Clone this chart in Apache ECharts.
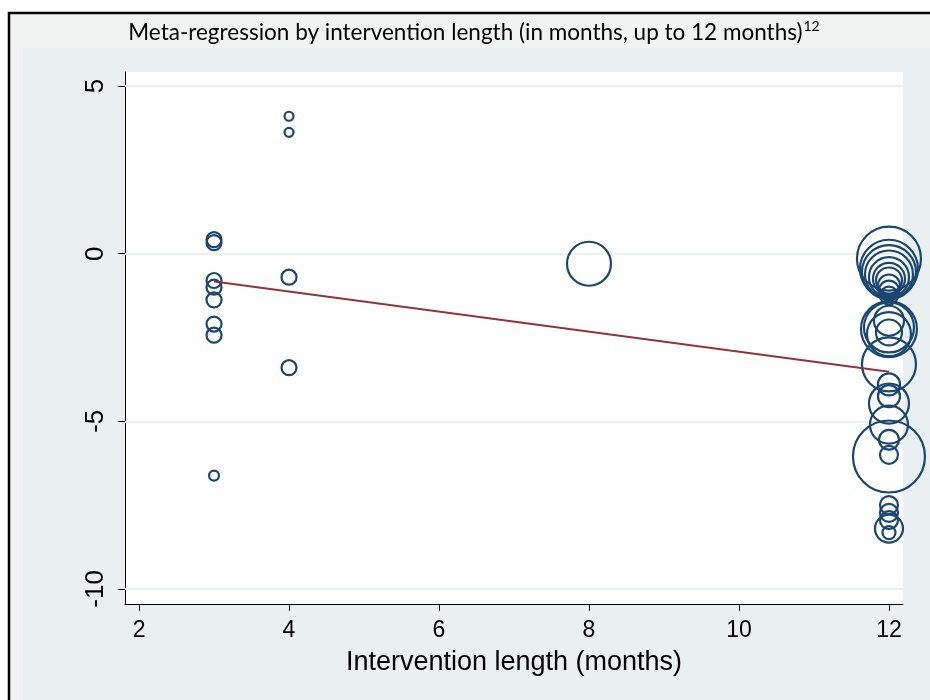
<!DOCTYPE html>
<html>
<head>
<meta charset="utf-8">
<script src="https://cdn.jsdelivr.net/npm/echarts@6/dist/echarts.min.js"></script>
<style>
  html, body { margin: 0; padding: 0; background: #ffffff; }
  #chart { width: 930px; height: 700px; }
</style>
</head>
<body>
<div id="chart"></div>
<script>
// Study-level effects by intervention length (months), with study weights
const months = [
  3, 3, 3, 3, 3, 3, 3, 3,
  4, 4, 4, 4,
  8,
  12, 12, 12, 12, 12, 12, 12, 12, 12, 12,
  12, 12, 12, 12, 12,
  12, 12, 12, 12, 12, 12, 12, 12,
  12, 12, 12, 12, 12
];
const effects = [
  0.42, 0.33, -0.80, -1.00, -1.38, -2.10, -2.43, -6.62,
  4.10, 3.62, -0.70, -3.40,
  -0.30,
  -0.15, -0.45, -0.55, -0.62, -0.70, -0.75, -0.80, -0.95, -1.10, -1.25,
  -2.00, -2.20, -2.25, -2.35, -2.40,
  -3.30, -3.90, -4.25, -4.47, -5.10, -5.55, -6.05, -6.00,
  -7.50, -7.73, -7.95, -8.20, -8.32
];
const studyWeights = [
  25, 25, 25, 25, 25, 25, 25, 11,
  9, 9, 25, 25,
  215,
  455, 374, 324, 256, 178, 114, 75, 54, 44, 36,
  100, 278, 348, 75, 215,
  324, 54, 54, 178, 160, 44, 576, 36,
  36, 36, 36, 87, 19
];

// Fitted meta-regression line at the ends of the observed range
const fitMonths = [3, 12];
const fitEffects = [-0.83, -3.52];

// Axis ticks
const xTicks = [2, 4, 6, 8, 10, 12];
const yTicks = [-10, -5, 0, 5];

const titleText = 'Meta-regression by intervention length (in months, up to 12 months)';
const titleNote = '12';
const xTitle = 'Intervention length (months)';

const navy = '#1a476f';
const maroon = '#90353b';
const gridTint = '#eaf0f2';
const sans = 'Liberation Sans, Arial, sans-serif';

const chart = echarts.init(document.getElementById('chart'), null, { renderer: 'canvas' });

const points = months.map((m, i) => [m, effects[i], studyWeights[i]]);

chart.setOption({
  animation: false,
  backgroundColor: '#ffffff',
  graphic: [
    // outer frame and graph region
    { type: 'rect', z: -10, shape: { x: 9, y: 13, width: 940, height: 700 },
      style: { fill: '#f1f2f2', stroke: '#000000', lineWidth: 2.5 } },
    { type: 'rect', z: -9, shape: { x: 23, y: 48, width: 920, height: 660 },
      style: { fill: gridTint } },
    { type: 'rect', z: -8, shape: { x: 125, y: 72, width: 778, height: 532 },
      style: { fill: '#ffffff' } },
    { type: 'text', z: 10, x: 474, y: 33,
      style: {
        text: '{m|' + titleText + '}{s|' + titleNote + '}',
        align: 'center', verticalAlign: 'middle',
        rich: {
          m: { fontFamily: 'Lato', fontSize: 22.5, fill: '#000000', lineHeight: 28 },
          s: { fontFamily: 'Lato', fontSize: 14, fill: '#000000', verticalAlign: 'top', lineHeight: 28, padding: [0, 0, 20, 1] }
        }
      } }
  ],
  grid: { left: 125, top: 72, width: 778, height: 532, containLabel: false },
  xAxis: {
    type: 'value', min: 1.813, max: 12.187,
    name: xTitle, nameLocation: 'middle', nameGap: 45,
    nameTextStyle: { fontFamily: sans, fontSize: 27, color: '#000000' },
    axisLine: { show: true, onZero: false, lineStyle: { color: '#000000', width: 1 } },
    axisTick: { show: true, length: 7, customValues: xTicks, lineStyle: { color: '#000000' } },
    axisLabel: { customValues: xTicks, margin: 15, color: '#000000',
      fontFamily: sans, fontSize: 23 },
    splitLine: { show: false }
  },
  yAxis: {
    type: 'value', min: -10.45, max: 5.42,
    axisLine: { show: true, onZero: false, lineStyle: { color: '#000000', width: 1 } },
    axisTick: { show: true, length: 7, customValues: yTicks, lineStyle: { color: '#000000' } },
    axisLabel: { customValues: yTicks, rotate: 90, margin: 16, color: '#000000',
      fontFamily: sans, fontSize: 26 },
    splitLine: { show: false }
  },
  series: [
    {
      type: 'line', data: yTicks.map(v => [xTicks[0], v]), showSymbol: false,
      lineStyle: { opacity: 0 }, silent: true, z: 0,
      markLine: {
        silent: true, symbol: 'none', label: { show: false }, z: 1,
        lineStyle: { color: gridTint, width: 2, type: 'solid' },
        data: yTicks.map(v => ({ yAxis: v }))
      }
    },
    {
      type: 'scatter', data: points, z: 6,
      symbol: 'circle',
      symbolSize: d => 3 * Math.sqrt(d[2]),
      itemStyle: { color: 'rgba(0,0,0,0)', borderColor: navy, borderWidth: 2.2, opacity: 1 }
    },
    {
      type: 'line', data: fitMonths.map((m, i) => [m, fitEffects[i]]), z: 7,
      showSymbol: false, lineStyle: { color: maroon, width: 2 }
    }
  ]
});
</script>
</body>
</html>
